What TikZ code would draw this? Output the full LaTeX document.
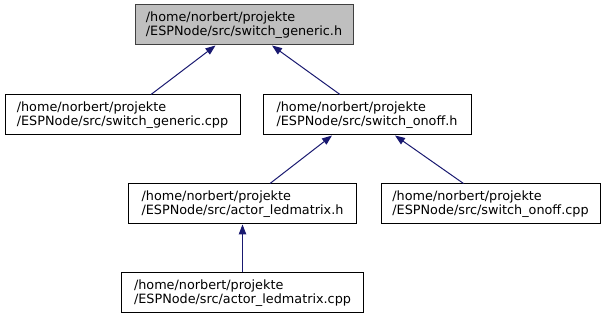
\documentclass[tikz,border=0pt]{standalone}
\usepackage{fontspec}
\setmainfont{DejaVu Sans}
\usetikzlibrary{arrows.meta}

\definecolor{edgeblue}{HTML}{191970}
\definecolor{boxgray}{HTML}{BFBFBF}
\definecolor{boxline}{HTML}{404040}

\tikzset{
  file/.style={draw=black, fill=white, line width=1pt, align=left,
    minimum height=40pt, inner sep=0pt,
    font=\fontsize{12.8}{14}\selectfont},
  current/.style={file, draw=boxline, fill=boxgray},
  dep/.style={draw=edgeblue, line width=1pt,
    -{Triangle[length=10pt,width=7.5pt]}}
}

\begin{document}
\begin{tikzpicture}[x=1pt, y=-1pt]
            \useasboundingbox (0,0) rectangle (606,320);
            %\draw[red] (0,0) rectangle (606,320);
            \node[current, minimum width=218pt] (gen_h) at (244,25)
              {/home/norbert/projekte\\/ESPNode/src/switch\_generic.h};

            \node[file, minimum width=235pt] (gen_cpp) at (122.5,115)
              {/home/norbert/projekte\\/ESPNode/src/switch\_generic.cpp};
            \node[file, minimum width=208pt] (onoff_h) at (367,115)
              {/home/norbert/projekte\\/ESPNode/src/switch\_onoff.h};

            \node[file, minimum width=228pt] (ledm_h) at (242.5,204)
              {/home/norbert/projekte\\/ESPNode/src/actor\_ledmatrix.h};
            \node[file, minimum width=219pt] (onoff_cpp) at (490.5,204)
              {/home/norbert/projekte\\/ESPNode/src/switch\_onoff.cpp};

            \node[file, minimum width=242pt] (ledm_cpp) at (242.5,293)
              {/home/norbert/projekte\\/ESPNode/src/actor\_ledmatrix.cpp};

            \draw[dep] ([xshift=28.5pt]gen_cpp.north) -- ([xshift=-28.5pt]gen_h.south);
            \draw[dep] ([xshift=-27pt]onoff_h.north) -- ([xshift=28pt]gen_h.south);
            \draw[dep] ([xshift=27.5pt]ledm_h.north) -- ([xshift=-35pt]onoff_h.south);
            \draw[dep] ([xshift=-27pt]onoff_cpp.north) -- ([xshift=28pt]onoff_h.south);
            \draw[dep] (ledm_cpp.north) -- (ledm_h.south);

\end{tikzpicture}
\end{document}
